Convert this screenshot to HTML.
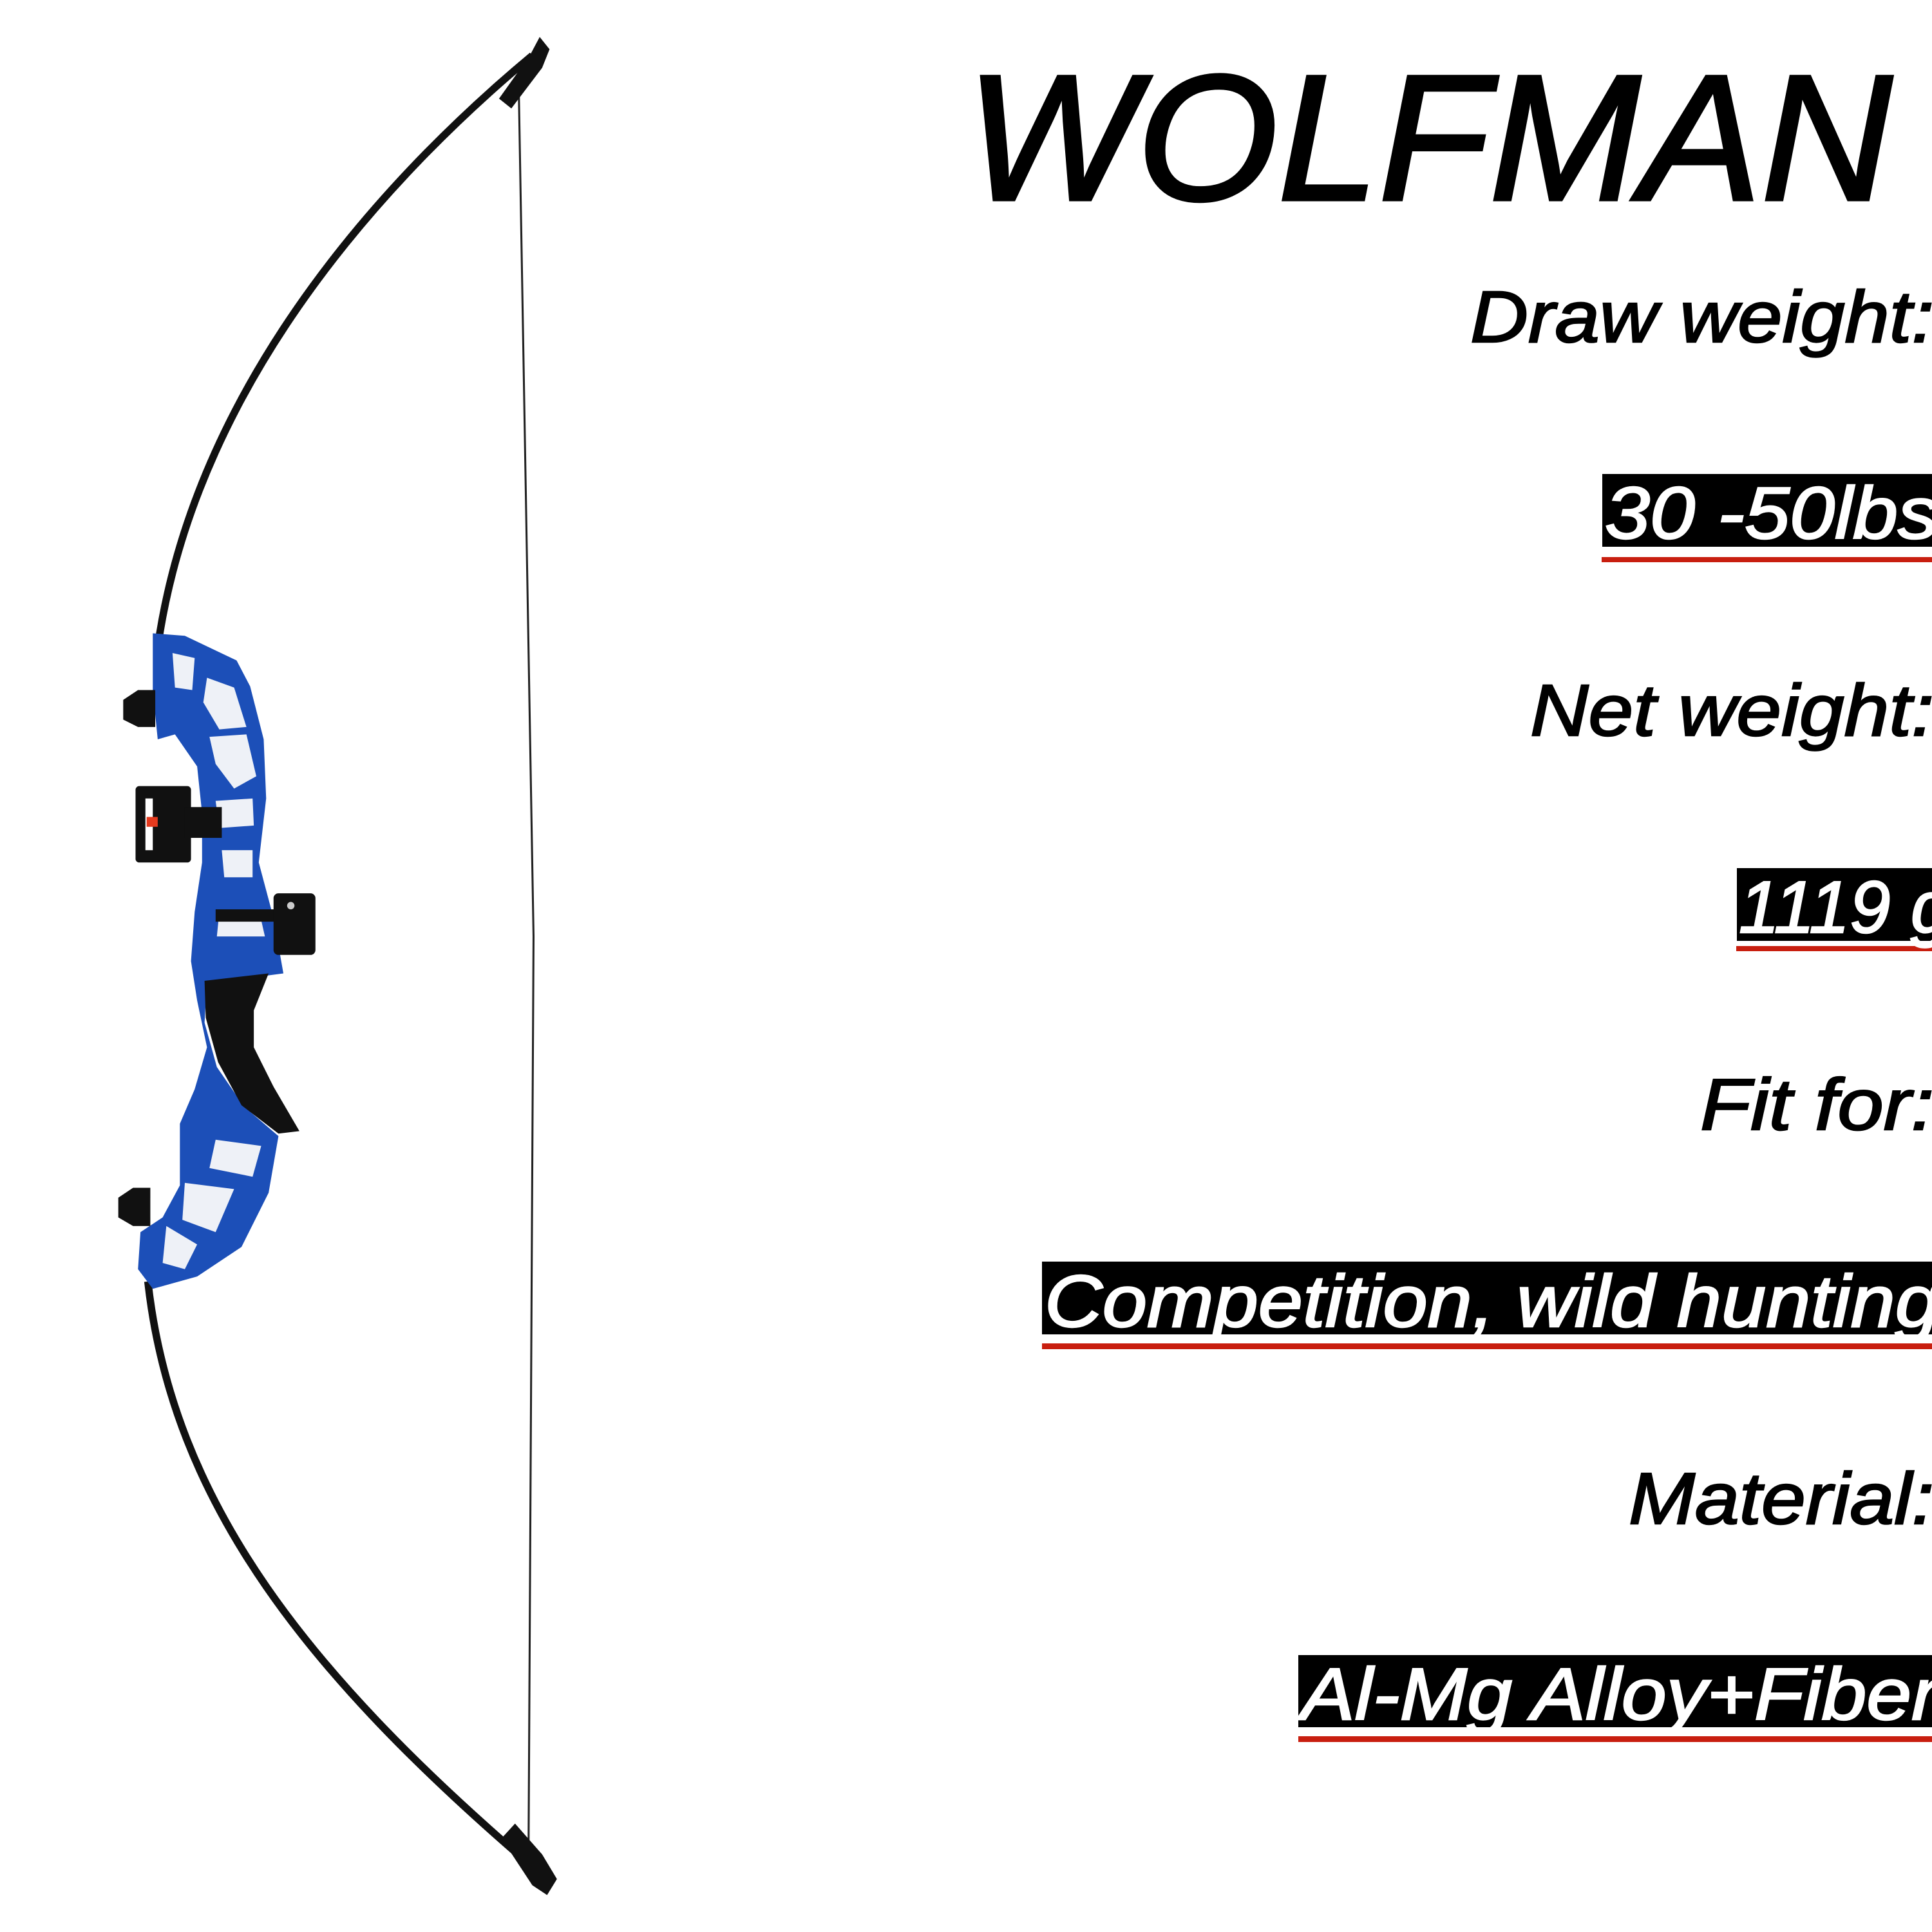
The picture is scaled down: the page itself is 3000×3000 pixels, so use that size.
<!DOCTYPE html>
<html><head><meta charset="utf-8"><style>
html,body{margin:0;padding:0;background:#fff;}
svg{display:block;}
</style></head><body>
<svg width="3000" height="3000" viewBox="0 0 3000 3000" xmlns="http://www.w3.org/2000/svg">
<rect width="3000" height="3000" fill="#fff"/>
<g font-family="Liberation Sans, sans-serif" font-style="italic">
<text x="1500" y="310" font-size="278" textLength="1438" lengthAdjust="spacingAndGlyphs" fill="#000" stroke="#000" stroke-width="5">WOLFMAN</text>
<text x="2283" y="531" font-size="113" textLength="720" lengthAdjust="spacingAndGlyphs" fill="#000" stroke="#000" stroke-width="2.5">Draw weight:</text>
<rect x="2488" y="736" width="520" height="113" fill="#000"/>
<rect x="2487" y="865" width="520" height="8" fill="#c81e0f"/>
<text x="2492" y="836" font-size="114" textLength="518" lengthAdjust="spacingAndGlyphs" fill="#fff" stroke="#fff" stroke-width="2.5">30 -50lbs</text>
<text x="2376" y="1142" font-size="113" textLength="627" lengthAdjust="spacingAndGlyphs" fill="#000" stroke="#000" stroke-width="2.5">Net weight:</text>
<rect x="2697" y="1348" width="310" height="113" fill="#000"/>
<rect x="2696" y="1469" width="310" height="8" fill="#c81e0f"/>
<text x="2700" y="1448" font-size="114" textLength="330" lengthAdjust="spacingAndGlyphs" fill="#fff" stroke="#fff" stroke-width="2.5">1119 g</text>
<text x="2640" y="1754" font-size="113" textLength="363" lengthAdjust="spacingAndGlyphs" fill="#000" stroke="#000" stroke-width="2.5">Fit for:</text>
<rect x="1618" y="1959" width="1390" height="113" fill="#000"/>
<rect x="1618" y="2086" width="1390" height="9" fill="#c81e0f"/>
<text x="1622" y="2060" font-size="114" textLength="1390" lengthAdjust="spacingAndGlyphs" fill="#fff" stroke="#fff" stroke-width="2.5">Competition, wild hunting</text>
<text x="2529" y="2366" font-size="113" textLength="474" lengthAdjust="spacingAndGlyphs" fill="#000" stroke="#000" stroke-width="2.5">Material:</text>
<rect x="2016" y="2570" width="990" height="112" fill="#000"/>
<rect x="2016" y="2696" width="990" height="9" fill="#c81e0f"/>
<text x="2020" y="2670" font-size="114" textLength="990" lengthAdjust="spacingAndGlyphs" fill="#fff" stroke="#fff" stroke-width="2.5">Al-Mg Alloy+Fiber</text>
</g>
<g transform="scale(1.9133)">
<polyline points="421,70 433,760 429,1495" fill="none" stroke="#222" stroke-width="1.6"/>
<path d="M432,45 C330,130 160,300 128,525" fill="none" stroke="#111" stroke-width="6"/>
<path d="M120,1040 C140,1220 250,1360 438,1520" fill="none" stroke="#111" stroke-width="6"/>
<path d="M405,80 L430,45 L438,30 L446,40 L440,55 L415,88 Z" fill="#111"/>
<path d="M407,1492 L418,1480 L440,1505 L452,1525 L444,1538 L432,1530 Z" fill="#111"/>
<path d="M124,514 L150,516 L192,536 L203,557 L214,600 L216,648 L210,700 L222,745 L230,790 L200,794 L168,796 L166,830 L176,866 L198,898 L226,922 L218,968 L196,1012 L160,1036 L124,1046 L112,1030 L114,1000 L132,988 L146,962 L146,912 L158,884 L168,850 L160,812 L155,780 L158,740 L164,700 L164,660 L160,622 L142,596 L128,600 L124,560 Z" fill="#1c4fb8"/>
<path d="M140,530 L158,534 L156,560 L142,558 Z" fill="#eef1f7"/>
<path d="M168,550 L190,558 L200,590 L178,592 L165,570 Z" fill="#eef1f7"/>
<path d="M170,598 L200,596 L208,630 L190,640 L175,620 Z" fill="#eef1f7"/>
<path d="M175,650 L205,648 L206,670 L178,672 Z" fill="#eef1f7"/>
<path d="M180,690 L205,690 L205,712 L182,712 Z" fill="#eef1f7"/>
<path d="M178,740 L210,738 L215,760 L176,760 Z" fill="#eef1f7"/>
<path d="M175,925 L212,930 L205,955 L170,948 Z" fill="#eef1f7"/>
<path d="M150,960 L190,965 L175,1000 L148,990 Z" fill="#eef1f7"/>
<path d="M135,995 L160,1010 L150,1030 L132,1025 Z" fill="#eef1f7"/>
<path d="M166,796 L218,790 L206,820 L206,850 L222,882 L243,918 L226,920 L196,897 L177,862 L167,826 Z" fill="#111"/>
<path d="M100,568 L112,560 L126,560 L126,590 L112,590 L100,584 Z" fill="#111"/>
<path d="M96,972 L108,964 L122,964 L122,995 L108,995 L96,988 Z" fill="#111"/>
<rect x="110" y="638" width="45" height="62" rx="3" fill="#111"/>
<rect x="118" y="648" width="6" height="42" fill="#fff"/>
<rect x="119" y="663" width="9" height="8" fill="#e53a1e"/>
<rect x="150" y="655" width="30" height="25" fill="#111"/>
<rect x="175" y="738" width="55" height="10" fill="#111"/>
<rect x="222" y="725" width="34" height="50" rx="4" fill="#111"/>
<circle cx="236" cy="735" r="3" fill="#ccc"/>
</g>
</svg>
</body></html>
